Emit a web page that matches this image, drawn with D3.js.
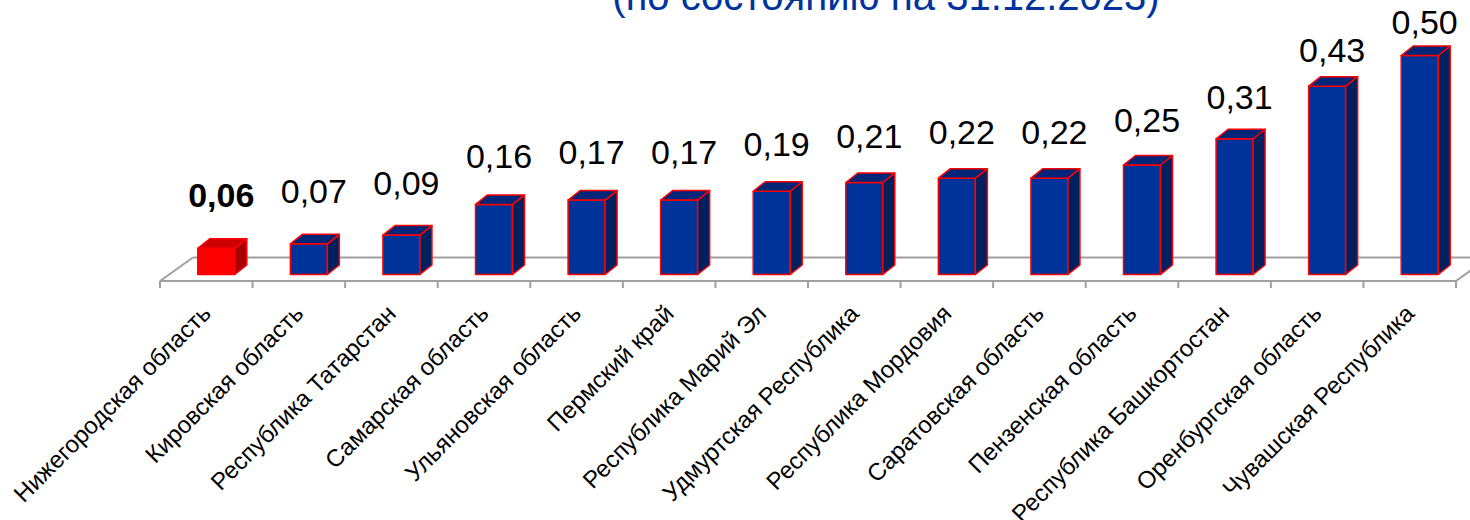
<!DOCTYPE html>
<html lang="ru">
<head>
    <meta charset="UTF-8">
    <style>
        body { margin: 0; background: #fff; }
        svg { display: block; font-family: Arial, "Liberation Sans", sans-serif; }
        .floor line { stroke: #a0a0a0; stroke-width: 2px; }
        .bar path { stroke: #ff0000; stroke-width: 1.5px; stroke-linejoin: round; }
    </style>
</head>
<body>
    <svg width="1470" height="520"></svg>
    <script src="https://cdn.jsdelivr.net/npm/d3@7"></script>
    <script>

        var title = "(по состоянию на 31.12.2023)";

        var regions = [
            "Нижегородская область",
            "Кировская область",
            "Республика Татарстан",
            "Самарская область",
            "Ульяновская область",
            "Пермский край",
            "Республика Марий Эл",
            "Удмуртская Республика",
            "Республика Мордовия",
            "Саратовская область",
            "Пензенская область",
            "Республика Башкортостан",
            "Оренбургская область",
            "Чувашская Республика"
        ];

        var values = [0.06, 0.07, 0.09, 0.16, 0.17, 0.17, 0.19, 0.21, 0.22, 0.22, 0.25, 0.31, 0.43, 0.50];

        var highlight = "Нижегородская область";

        var data = regions.map(function(r, i) { return {region: r, value: values[i]}; });

        var svg = d3.select("svg");

        // floor geometry (3d look)
        var floorFront = 281, floorBack = 257.5, floorShift = 33;
        var depthX = 12, depthY = -9.5, barW = 37, barShift = 10;

        var x = d3.scaleBand().domain(regions).range([160, 1456]).padding(0);
        var y = d3.scaleLinear().domain([0, 0.5]).range([274.5, 55.5]);

        var ru = d3.formatLocale({decimal: ",", thousands: " ", grouping: [3], currency: ["", " ₽"]});
        var fmt = ru.format(".2f");

        svg.append("text")
            .attr("x", 886)
            .attr("y", 10)
            .attr("text-anchor", "middle")
            .style("font-size", "40px")
            .style("fill", "#0033a0")
            .text(title);

        var x0 = x.range()[0], x1 = x.range()[1];
        var floor = svg.append("g").attr("class", "floor");
        floor.append("line").attr("x1", x0 + floorShift).attr("y1", floorBack).attr("x2", x1 + floorShift).attr("y2", floorBack);
        floor.append("line").attr("x1", x0).attr("y1", floorFront).attr("x2", x0 + floorShift).attr("y2", floorBack);
        floor.append("line").attr("x1", x1).attr("y1", floorFront).attr("x2", x1 + floorShift).attr("y2", floorBack);
        floor.append("line").attr("x1", x0).attr("y1", floorFront).attr("x2", x1).attr("y2", floorFront);

        var ticks = regions.map(function(r) { return x(r); }).concat([x1]);
        floor.selectAll(".tick").data(ticks).enter().append("line")
            .attr("x1", function(d) { return d; })
            .attr("x2", function(d) { return d; })
            .attr("y1", floorFront)
            .attr("y2", floorFront + 7);

        function left(d) { return x(d.region) + x.bandwidth() / 2 - barW / 2 + barShift; }

        var bar = svg.selectAll(".bar")
            .data(data)
            .enter().append("g")
            .attr("class", "bar");

        bar.append("path")
            .style("fill", function(d) { return d.region === highlight ? "#ff0000" : "#003399"; })
            .attr("d", function(d) {
                var l = left(d), t = y(d.value), b = y(0);
                return "M" + l + "," + b + "H" + (l + barW) + "V" + t + "H" + l + "Z";
            });

        bar.append("path")
            .style("fill", function(d) { return d.region === highlight ? "#a80000" : "#002060"; })
            .attr("d", function(d) {
                var r = left(d) + barW, t = y(d.value), b = y(0);
                return "M" + r + "," + b + "L" + (r + depthX) + "," + (b + depthY) +
                    "V" + (t + depthY) + "L" + r + "," + t + "Z";
            });

        bar.append("path")
            .style("fill", function(d) { return d.region === highlight ? "#cc0000" : "#00267a"; })
            .attr("d", function(d) {
                var l = left(d), t = y(d.value);
                return "M" + l + "," + t + "L" + (l + depthX) + "," + (t + depthY) +
                    "H" + (l + barW + depthX) + "L" + (l + barW) + "," + t + "Z";
            });

        // labels sit a bit closer to the taller bars, as in the original
        svg.selectAll(".val")
            .data(data)
            .enter().append("text")
            .attr("class", "val")
            .attr("x", function(d) { return left(d) + barW / 2 + 5; })
            .attr("y", function(d) { return y(d.value) - (44 - 45 * d.value); })
            .attr("text-anchor", "middle")
            .style("font-size", "34px")
            .style("font-weight", function(d) { return d.region === highlight ? "bold" : "normal"; })
            .style("fill", "#000")
            .text(function(d) { return fmt(d.value); });

        svg.selectAll(".cat")
            .data(regions)
            .enter().append("text")
            .attr("class", "cat")
            .attr("transform", function(d) {
                return "translate(" + (x(d) + x.bandwidth() / 2 + 6) + "," + 315 + ") rotate(-45)";
            })
            .attr("text-anchor", "end")
            .style("font-size", "24px")
            .style("fill", "#000")
            .text(function(d) { return d; });

    </script>
</body>
</html>
